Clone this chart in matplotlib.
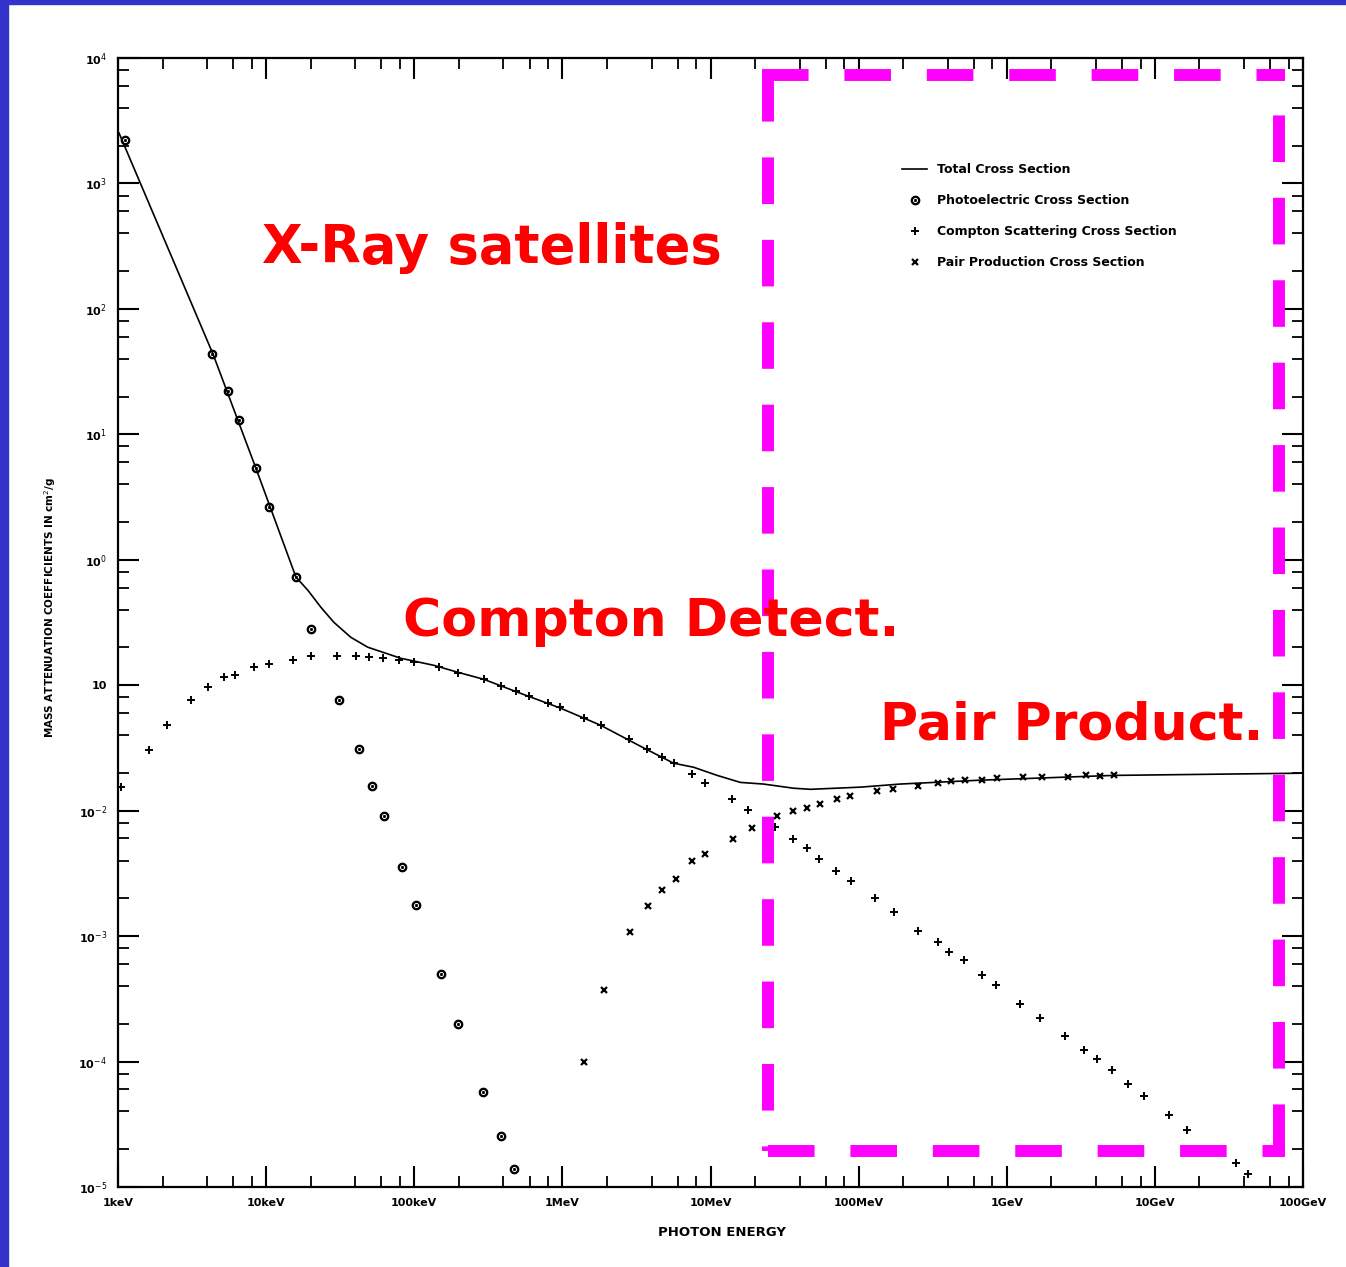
import matplotlib.pyplot as plt
from matplotlib.lines import Line2D
from matplotlib.patches import Rectangle
from matplotlib.ticker import LogLocator, NullFormatter

# photon energy in MeV, mass attenuation coefficient in cm^2/g
total_E = [1.016e-3, 4.38e-3, 8.53e-3, 1.59e-2, 1.91e-2, 2.34e-2, 2.86e-2, 3.73e-2, 4.85e-2,
           8.11e-2, 0.136, 0.196, 0.294, 0.499, 0.973, 1.81, 3.37, 5.63, 7.68, 11.1, 15.9,
           22.8, 36.3, 47.3, 103, 191, 662, 5230, 1.0e5]
total_mu = [2523, 43.6, 5.37, 0.727, 0.573, 0.419, 0.318, 0.241, 0.201,
            0.164, 0.144, 0.127, 0.1116, 0.0879, 0.0656, 0.0480, 0.0326, 0.0239, 0.0222, 0.0191, 0.0168,
            0.0163, 0.0151, 0.0148, 0.0154, 0.0163, 0.0175, 0.0191, 0.0199]

photo_E = [1.11e-3, 4.30e-3, 5.52e-3, 6.55e-3, 8.53e-3, 1.045e-2, 1.59e-2, 2.0e-2, 3.1e-2, 4.23e-2,
           5.16e-2, 6.22e-2, 8.24e-2, 0.102, 0.151, 0.196, 0.290, 0.383, 0.469]
photo_mu = [2218, 43.6, 22.1, 13.0, 5.37, 2.63, 0.727, 0.280, 0.0759, 0.0309,
            0.01566, 9.02e-3, 3.54e-3, 1.76e-3, 4.96e-4, 1.98e-4, 5.68e-5, 2.53e-5, 1.38e-5]

compton_E = [1.05e-3, 1.62e-3, 2.14e-3, 3.10e-3, 4.05e-3, 5.19e-3, 6.15e-3, 8.26e-3, 1.045e-2, 1.51e-2,
             2.0e-2, 3.0e-2, 4.03e-2, 4.93e-2, 6.14e-2, 7.85e-2, 9.93e-2, 0.146, 0.196, 0.294,
             0.383, 0.484, 0.591, 0.794, 0.957, 1.41, 1.81, 2.80, 3.70, 4.74,
             5.63, 7.45, 9.12, 13.9, 18.0, 27.4, 36.3, 45.1, 54.3, 70.8,
             89.4, 128, 174, 253, 345, 409, 517, 684, 849, 1233,
             1683, 2483, 3334, 4074, 5152, 6607, 8453, 12470, 16520, 35320, 42560]
compton_mu = [0.0154, 0.0303, 0.0480, 0.0759, 0.0964, 0.116, 0.120, 0.139, 0.147, 0.158,
              0.170, 0.170, 0.170, 0.167, 0.164, 0.158, 0.152, 0.139, 0.125, 0.1116,
              0.0982, 0.0895, 0.0817, 0.0718, 0.0668, 0.0546, 0.0480, 0.0371, 0.0309, 0.0267,
              0.0239, 0.0195, 0.0166, 0.0123, 0.01007, 7.38e-3, 5.92e-3, 5.01e-3, 4.09e-3, 3.29e-3,
              2.73e-3, 2.00e-3, 1.55e-3, 1.09e-3, 8.93e-4, 7.43e-4, 6.41e-4, 4.86e-4, 4.06e-4, 2.86e-4,
              2.21e-4, 1.59e-4, 1.23e-4, 1.04e-4, 8.51e-5, 6.58e-5, 5.28e-5, 3.72e-5, 2.83e-5, 1.54e-5, 1.28e-5]

pair_E = [1.41, 1.90, 2.84, 3.76, 4.67, 5.81, 7.45, 9.25, 14.1, 19.2,
          27.9, 36.3, 45.1, 55.2, 71.9, 87.9, 134, 171, 253, 345,
          422, 525, 684, 863, 1292, 1735, 2600, 3436, 4276, 5309]
pair_mu = [9.86e-5, 3.70e-4, 1.07e-3, 1.73e-3, 2.32e-3, 2.84e-3, 3.94e-3, 4.49e-3, 5.92e-3, 7.24e-3,
           9.02e-3, 9.89e-3, 0.01045, 0.01125, 0.0123, 0.0130, 0.0143, 0.0148, 0.01566, 0.0166,
           0.0172, 0.0175, 0.0175, 0.0181, 0.0185, 0.0185, 0.0185, 0.0191, 0.0188, 0.0191]

x_ticks = [1e-3, 1e-2, 1e-1, 1e0, 1e1, 1e2, 1e3, 1e4, 1e5]
x_tick_labels = ["1keV", "10keV", "100keV", "1MeV", "10MeV", "100MeV", "1GeV", "10GeV", "100GeV"]
y_ticks = [1e4, 1e3, 1e2, 1e1, 1e0, 1e-1, 1e-2, 1e-3, 1e-4, 1e-5]
y_tick_labels = [r"10$^{4}$", r"10$^{3}$", r"10$^{2}$", r"10$^{1}$", r"10$^{0}$", "10",
                 r"10$^{-2}$", r"10$^{-3}$", r"10$^{-4}$", r"10$^{-5}$"]

W, H = 1346, 1267


def fx(px):
  return px / W


def fy(py):
  return 1 - py / H


def dashed_edge(fig, x0, y0, x1, y1):
  # magenta box edge, pixel coords of the picture
  line = Line2D([fx(x0), fx(x1)], [fy(y0), fy(y1)], transform=fig.transFigure,
                color="#ff00ff", lw=8.6, ls=(0, (3.9, 3.0)), solid_capstyle="butt", zorder=20)
  fig.add_artist(line)


def main():
  fig = plt.figure(figsize=(W / 100, H / 100), dpi=100)
  fig.patch.set_facecolor("white")
  # blue slide border
  fig.add_artist(Rectangle((0, 0), fx(8), 1, transform=fig.transFigure, color="#3333cc", zorder=30))
  fig.add_artist(Rectangle((0, fy(4)), 1, 4 / H, transform=fig.transFigure, color="#3333cc", zorder=30))

  ax = fig.add_axes([fx(118), fy(1187), 1185 / W, 1129 / H])
  ax.set_xscale("log")
  ax.set_yscale("log")

  ax.plot(total_E, total_mu, color="black", lw=1.2, label="Total Cross Section")
  ax.plot(photo_E, photo_mu, ls="none", marker=r"$\odot$", ms=6, color="black",
          label="Photoelectric Cross Section")
  ax.plot(compton_E, compton_mu, ls="none", marker="+", ms=6, mew=1.4, color="black",
          label="Compton Scattering Cross Section")
  ax.plot(pair_E, pair_mu, ls="none", marker="x", ms=5, mew=1.6, color="black",
          label="Pair Production Cross Section")

  ax.set_xlim(1e-3, 1e5)
  ax.set_ylim(1e-5, 1e4)

  ax.set_xticks(x_ticks)
  ax.set_xticklabels(x_tick_labels, fontsize=8, fontweight="bold")
  ax.set_yticks(y_ticks)
  ax.set_yticklabels(y_tick_labels, fontsize=8, fontweight="bold")
  ax.xaxis.set_minor_locator(LogLocator(base=10, subs=[2, 4, 6, 8], numticks=20))
  ax.yaxis.set_minor_locator(LogLocator(base=10, subs=[2, 4, 6, 8], numticks=20))
  ax.xaxis.set_minor_formatter(NullFormatter())
  ax.yaxis.set_minor_formatter(NullFormatter())
  ax.tick_params(which="major", direction="in", length=15, width=1.5, top=True, right=True, pad=8)
  ax.tick_params(which="minor", direction="in", length=8, width=1.3, top=True, right=True)
  for s in ax.spines.values():
    s.set_linewidth(1.6)

  ax.legend(loc="upper left", bbox_to_anchor=(0.662, 0.907), frameon=False,
            prop={"size": 9, "weight": "bold"}, handlelength=2.0, handletextpad=0.8,
            labelspacing=1.45, borderpad=0, borderaxespad=0)

  fig.text(fx(722), fy(1232), "PHOTON ENERGY", ha="center", va="center",
           fontsize=9.5, fontweight="bold")
  fig.text(fx(50), fy(608), r"MASS ATTENUATION COEFFICIENTS IN cm$^{2}$/g", rotation=90,
           ha="center", va="center", fontsize=7.5, fontweight="bold")

  # slide overlay
  red = "#ff0000"
  fig.text(fx(262), fy(263), "X-Ray satellites", color=red, fontsize=38,
           fontweight="bold", ha="left", va="baseline", zorder=25)
  fig.text(fx(403), fy(636), "Compton Detect.", color=red, fontsize=37.5,
           fontweight="bold", ha="left", va="baseline", zorder=25)
  fig.text(fx(880), fy(740), "Pair Product.", color=red, fontsize=37.5,
           fontweight="bold", ha="left", va="baseline", zorder=25)

  dashed_edge(fig, 768, 75, 768, 1151)
  dashed_edge(fig, 768, 1151, 1285, 1151)
  dashed_edge(fig, 1279, 1151, 1279, 69)
  dashed_edge(fig, 762, 75, 1285, 75)

  fig.savefig("out.png", dpi=100)
  plt.close()


if __name__ == "__main__":
  main()
